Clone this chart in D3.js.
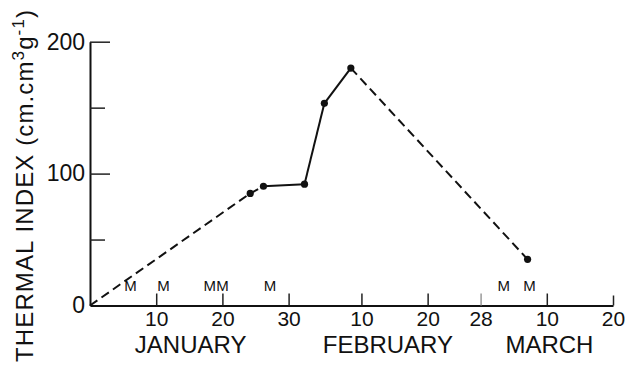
<!DOCTYPE html>
<html>
<head>
<meta charset="utf-8">
<script src="https://cdn.jsdelivr.net/npm/d3@7"></script>
<style>
  html, body { margin: 0; padding: 0; background: #fff; }
  svg { display: block; }
  text { font-family: "Liberation Sans", Arial, sans-serif; fill: #111; }
</style>
</head>
<body>
<svg id="chart" width="627" height="365"></svg>
<script>
// Days are counted from 31 December (Jan 1 = day 1, Feb 1 = day 32, Mar 1 = day 60).
const obsDays   = [0, 24.2, 26.2, 32.4, 35.4, 39.4, 66.1];
const obsIndex  = [0, 85, 90.4, 92, 153.3, 180, 35];
const obsMarked = [false, true, true, true, true, true, true];
// segment i joins point i and i+1; true = dashed (no intervening measurements)
const segDashed = [true, true, false, false, false, true];

const xTickDays   = [10, 20, 30, 41, 51, 59, 69, 79];
const xTickLabels = ["10", "20", "30", "10", "20", "28", "10", "20"];
const monthNames  = ["JANUARY", "FEBRUARY", "MARCH"];
const monthCentre = [15.2, 45, 69.4];

const yMajor = [0, 100, 200];
const yMinor = [50, 150];

const mDays = [6.1, 11.1, 18.1, 20.0, 27.2, 62.5, 66.4];

const svg = d3.select("#chart");
const x = d3.scaleLinear().domain([0, 79]).range([90, 613]);
const y = d3.scaleLinear().domain([0, 200]).range([305.5, 41.7]);

// x axis: ticks point upward into the plot
const xAxis = d3.axisBottom(x)
  .tickValues(xTickDays)
  .tickFormat((d, i) => xTickLabels[i])
  .tickSizeInner(-12)
  .tickSizeOuter(0)
  .tickPadding(6);
const gx = svg.append("g").attr("transform", `translate(0,${y(0)})`).call(xAxis);
gx.select(".domain").attr("stroke", "#111").attr("stroke-width", 2);
gx.selectAll(".tick line").attr("stroke", "#222").attr("stroke-width", 1.5);
gx.selectAll(".tick line").filter(d => d === 59).attr("stroke", "#999");
gx.selectAll(".tick line").filter(d => d === 79).attr("y2", -10);
gx.selectAll(".tick text").attr("font-size", 21).attr("fill", "#111");

// month names under the day numbers
svg.append("g").selectAll("text")
  .data(monthNames)
  .join("text")
  .attr("x", (d, i) => x(monthCentre[i]))
  .attr("y", 353)
  .attr("text-anchor", "middle")
  .attr("font-size", 24)
  .text(d => d);

// y axis: labelled ticks at 0/100/200, short unlabelled ticks at 50/150
const yAxis = d3.axisLeft(y)
  .tickValues(yMajor)
  .tickFormat(d3.format("d"))
  .tickSizeInner(-20)
  .tickSizeOuter(0)
  .tickPadding(5);
const gy = svg.append("g").attr("transform", `translate(${x(0)},0)`).call(yAxis);
gy.select(".domain").attr("stroke", "#111").attr("stroke-width", 2);
gy.selectAll(".tick line").attr("stroke", "#222").attr("stroke-width", 1.5);
gy.selectAll(".tick line").filter(d => d === 0).remove();
gy.selectAll(".tick text").attr("font-size", 23).attr("fill", "#111");

const yAxisMinor = d3.axisLeft(y)
  .tickValues(yMinor)
  .tickFormat("")
  .tickSizeInner(-15)
  .tickSizeOuter(0);
const gy2 = svg.append("g").attr("transform", `translate(${x(0)},0)`).call(yAxisMinor);
gy2.select(".domain").remove();
gy2.selectAll(".tick line").attr("stroke", "#222").attr("stroke-width", 1.5);

// y axis title (rotated)
const title = svg.append("text")
  .attr("transform", "translate(33,186) rotate(-90)")
  .attr("text-anchor", "middle")
  .attr("font-size", 24)
  .attr("textLength", 352)
  .attr("lengthAdjust", "spacing");
title.append("tspan").text("THERMAL INDEX (cm.cm");
title.append("tspan").attr("baseline-shift", "super").attr("font-size", 17).text("3");
title.append("tspan").text("g");
title.append("tspan").attr("baseline-shift", "super").attr("font-size", 17).text("-1");
title.append("tspan").text(")");

// "M" markers above the time axis
svg.append("g").selectAll("text")
  .data(mDays)
  .join("text")
  .attr("x", d => x(d))
  .attr("y", 291)
  .attr("text-anchor", "middle")
  .attr("font-size", 15)
  .text("M");

// the curve, drawn segment by segment
const pts = obsDays.map((d, i) => ({ day: d, v: obsIndex[i], marked: obsMarked[i] }));
const segs = d3.pairs(pts).map((p, i) => ({ a: p[0], b: p[1], dashed: segDashed[i] }));
const line = d3.line().x(d => x(d.day)).y(d => y(d.v));
svg.append("g").selectAll("path")
  .data(segs)
  .join("path")
  .attr("d", s => line([s.a, s.b]))
  .attr("fill", "none")
  .attr("stroke", "#111")
  .attr("stroke-width", 2)
  .attr("stroke-dasharray", s => s.dashed ? "9,5" : null);

svg.append("g").selectAll("circle")
  .data(pts.filter(p => p.marked))
  .join("circle")
  .attr("cx", d => x(d.day))
  .attr("cy", d => y(d.v))
  .attr("r", 3.6)
  .attr("fill", "#111");
</script>
</body>
</html>
